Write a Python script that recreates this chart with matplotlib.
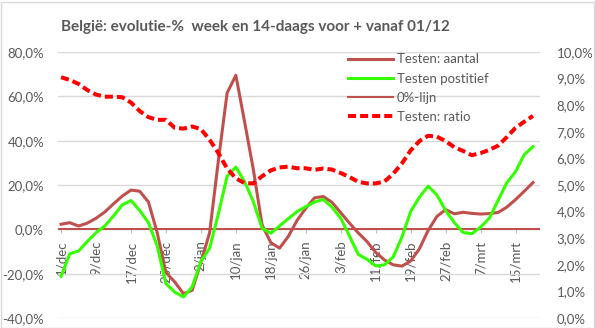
import numpy as np
import pandas as pd
import matplotlib
matplotlib.use("Agg")
import matplotlib.pyplot as plt
from matplotlib.ticker import FixedLocator, FuncFormatter
from matplotlib.patches import Rectangle

plt.rcParams['font.family'] = ['Lato', 'DejaVu Sans']

# one sample every 2 days, 1 dec 2020 .. 19 mrt 2021
dates = pd.date_range('2020-12-01', periods=55, freq='2D')

# week-over-week evolution of the number of tests (%)
testen_aantal = [2.3, 3.0, 1.5, 2.8, 5.0, 7.8, 11.5, 15.0, 17.7, 17.2,
                 12.3, -1.5, -19.5, -23.7, -29.0, -27.5, -15.0, -1.5, 31.0, 61.5,
                 69.5, 48.5, 27.0, 2.0, -6.0, -8.5, -3.2, 4.0, 9.5, 14.2,
                 14.8, 12.2, 7.5, 2.8, -1.6, -5.5, -10.4, -13.8, -16.0, -16.6,
                 -14.3, -8.8, -0.5, 5.8, 8.9, 7.0, 7.7, 7.2, 6.9, 7.1,
                 7.6, 10.0, 13.4, 17.2, 21.1]

# week-over-week evolution of the positive tests (%)
testen_positief = [-21.2, -11.0, -9.8, -5.5, -1.5, 1.5, 6.0, 11.0, 13.0, 8.5,
                   3.0, -7.5, -24.5, -28.3, -30.5, -26.0, -14.5, -8.5, 7.0, 24.0,
                   28.1, 21.5, 12.5, 0.5, -1.8, 1.5, 4.8, 8.0, 10.2, 12.3,
                   13.5, 10.0, 5.0, -3.0, -11.3, -13.5, -16.5, -16.0, -12.5, -3.5,
                   8.0, 14.5, 19.5, 15.5, 8.5, 3.0, -1.4, -2.0, 1.0, 5.0,
                   13.0, 21.0, 26.0, 33.7, 37.3]

# positivity ratio (%), right axis
testen_ratio = [9.05, 8.95, 8.80, 8.57, 8.40, 8.32, 8.32, 8.30, 8.10, 7.78,
                7.55, 7.45, 7.45, 7.15, 7.12, 7.20, 7.10, 6.70, 6.20, 5.62,
                5.25, 5.07, 5.06, 5.33, 5.55, 5.66, 5.69, 5.63, 5.63, 5.57,
                5.62, 5.58, 5.45, 5.30, 5.12, 5.06, 5.06, 5.13, 5.42, 5.81,
                6.30, 6.65, 6.85, 6.82, 6.65, 6.42, 6.28, 6.12, 6.20, 6.32,
                6.48, 6.80, 7.15, 7.38, 7.60]

zero_level = 0.0

tick_dates = pd.date_range('2020-12-01', periods=14, freq='8D')
tick_labels = ['1/dec', '9/dec', '17/dec', '25/dec', '2/jan', '10/jan', '18/jan',
               '26/jan', '3/feb', '11/feb', '19/feb', '27/feb', '7/mrt', '15/mrt']

title = 'België: evolutie-%  week en 14-daags voor + vanaf 01/12'

TXT = '#595959'
GRID = '#D9D9D9'
C_AANTAL = '#C0504D'
C_POS = '#33FF00'
C_RATIO = '#FF0000'


def pct(v, pos=None):
    return f'{v:.1f}%'.replace('.', ',')


fig = plt.figure(figsize=(5.95, 3.28), dpi=100)
ax = fig.add_axes([58 / 595, 1 - 318 / 328, (540 - 58) / 595, (318 - 52) / 328])
ax2 = ax.twinx()

x = dates.to_pydatetime()
ax.plot(x, testen_aantal, color=C_AANTAL, lw=2.2, label='Testen: aantal', zorder=3)
ax.plot(x, testen_positief, color=C_POS, lw=2.2, label='Testen postitief', zorder=3)
zl = ax.axhline(zero_level, color=C_AANTAL, lw=1.5, label='0%-lijn', zorder=2)
ax2.plot(x, testen_ratio, color=C_RATIO, lw=2.9, dashes=(2.0, 1.0),
         label='Testen: ratio')

x0 = dates[0]
ax.set_xlim(x0 - pd.Timedelta(days=0.7), x0 + pd.Timedelta(days=109.6))
ax.set_ylim(-40, 80)
ax2.set_ylim(0, 10)

ax.yaxis.set_major_locator(FixedLocator(np.arange(-40, 81, 20)))
ax.yaxis.set_major_formatter(FuncFormatter(pct))
ax2.yaxis.set_major_locator(FixedLocator(np.arange(0, 10.1, 1)))
ax2.yaxis.set_major_formatter(FuncFormatter(pct))
ax.grid(axis='y', color=GRID, lw=1)
ax.set_axisbelow(True)

ax.set_xticks(tick_dates.to_pydatetime())
ax.set_xticklabels(tick_labels)
ax.spines['bottom'].set_position(('data', 0))

for a in (ax, ax2):
    for s in a.spines.values():
        s.set_visible(False)
ax.tick_params(axis='y', length=0, pad=10, labelsize=9.5, labelcolor=TXT)
ax2.tick_params(axis='y', length=0, pad=12, labelsize=9.5, labelcolor=TXT)
ax.tick_params(axis='x', length=3, width=0.8, color='#BFBFBF', pad=5,
               labelsize=9.5, labelcolor=TXT, labelrotation=90)
for lab in ax.get_xticklabels():
    lab.set_ha('center')
    lab.set_va('top')

handles = ax.get_lines()[:2] + [zl] + ax2.get_lines()
ax2.legend(handles=handles, loc='upper left', bbox_to_anchor=(290 / 482, 0.995),
           frameon=False, fontsize=9.5, labelcolor=TXT, handlelength=3.4,
           handletextpad=0.3, labelspacing=0.55, borderaxespad=0.0,
           borderpad=0.0)

fig.text(255 / 595, 1 - 27 / 328, title, ha='center', va='center',
         fontsize=11, fontweight='bold', color=TXT)

fig.patches.append(Rectangle((0.5 / 595, 0.5 / 328), 593 / 595, 326 / 328,
                             transform=fig.transFigure, fill=False,
                             edgecolor=GRID, lw=1))

fig.savefig('out.png', dpi=100)
